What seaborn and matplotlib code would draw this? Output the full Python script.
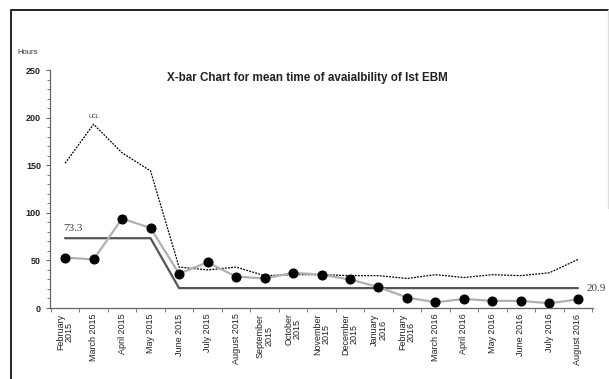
import matplotlib
matplotlib.use("Agg")
import matplotlib.pyplot as plt
from matplotlib.lines import Line2D
from matplotlib.ticker import MultipleLocator
import seaborn as sns
import pandas as pd

# Data
months = [
    "February\n2015", "March 2015", "April 2015", "May 2015", "June 2015",
    "July 2015", "August 2015", "September\n2015", "October\n2015",
    "November\n2015", "December\n2015", "January\n2016", "February\n2016",
    "March 2016", "April 2016", "May 2016", "June 2016", "July 2016",
    "August 2016",
]
mean_hours = [53, 51, 94, 84, 36, 48, 33, 31, 37, 35, 30, 22, 11, 6, 9.5, 7.5, 7.5, 5, 9]
ucl = [152, 193, 163, 144, 43, 40, 43, 34, 35, 35, 34, 34, 31, 35, 32, 35, 34, 37, 51]
center = [73.3, 73.3, 73.3, 73.3, 20.9, 20.9, 20.9, 20.9, 20.9, 20.9,
          20.9, 20.9, 20.9, 20.9, 20.9, 20.9, 20.9, 20.9, 20.9]

df = pd.DataFrame({"idx": range(len(months)), "mean": mean_hours,
                   "ucl": ucl, "center": center})

sns.set_style("ticks")
plt.rcParams["font.family"] = ["Liberation Sans", "DejaVu Sans"]

fig = plt.figure(figsize=(6.09, 3.79), dpi=100)
ax = fig.add_axes([50 / 609, 71 / 379, 543 / 609, 238 / 379])

# Frame around the figure (left/top dark, right faint, no bottom)
x0, x1, yt = 11 / 609, 607.5 / 609, 1 - 10 / 379
fig.lines.append(Line2D([x0, x0, x1], [0, yt, yt], transform=fig.transFigure,
                        color="#222222", linewidth=1.4))
fig.lines.append(Line2D([x1, x1], [yt, 0.45], transform=fig.transFigure,
                        color="#dddddd", linewidth=1.0))

sns.lineplot(data=df, x="idx", y="ucl", ax=ax, color="black",
             linestyle=(0, (1.5, 1)), linewidth=0.9)
sns.lineplot(data=df, x="idx", y="center", ax=ax, color="#555555",
             linewidth=1.6)
sns.lineplot(data=df, x="idx", y="mean", ax=ax, color="#b0b0b0",
             linewidth=1.6, marker="o", markersize=6.5,
             markerfacecolor="black", markeredgecolor="black")

ax.set_xlim(-0.53, 18.53)
ax.set_ylim(0, 250)
ax.set_xlabel("")
ax.set_ylabel("")
sns.despine(ax=ax)
for s in ["left", "bottom"]:
    ax.spines[s].set_color("#666666")
    ax.spines[s].set_linewidth(0.9)

ax.set_xticks(range(len(months)))
ax.set_xticklabels(months, rotation=90, fontsize=6.5, linespacing=0.9,
                   color="#222222")
ax.tick_params(axis="x", length=0, pad=4)
ax.set_xticks([i + 0.5 for i in range(-1, len(months))], minor=True)
ax.tick_params(axis="x", which="minor", length=3, color="#666666")

ax.yaxis.set_major_locator(MultipleLocator(50))
ax.yaxis.set_minor_locator(MultipleLocator(10))
ax.tick_params(axis="y", which="major", length=3, labelsize=6.5,
               color="#666666", labelcolor="#222222")
ax.tick_params(axis="y", which="minor", length=2, color="#666666")
for lab in ax.get_yticklabels():
    lab.set_fontweight("bold")

fig.text(307 / 609, 1 - 78 / 379,
         "X-bar Chart for mean time of avaialbility of Ist EBM",
         ha="center", va="center", fontsize=8.4, fontweight="bold",
         color="#222222")
fig.text(17 / 609, 1 - 53 / 379, "Hours", ha="left", va="center",
         fontsize=5.5, color="#333333")

ax.text(1.0, 193 + 6, "UCL", ha="center", va="bottom", fontsize=4,
        color="#333333")
ax.text(-0.05, 73.3 + 6, "73.3", ha="left", va="bottom", fontsize=8,
        family="Liberation Serif", color="#444444")
ax.text(18.3, 20.9, "20.9", ha="left", va="center", fontsize=8,
        family="Liberation Serif", color="#444444", clip_on=False)

fig.savefig("out.png", dpi=100)
